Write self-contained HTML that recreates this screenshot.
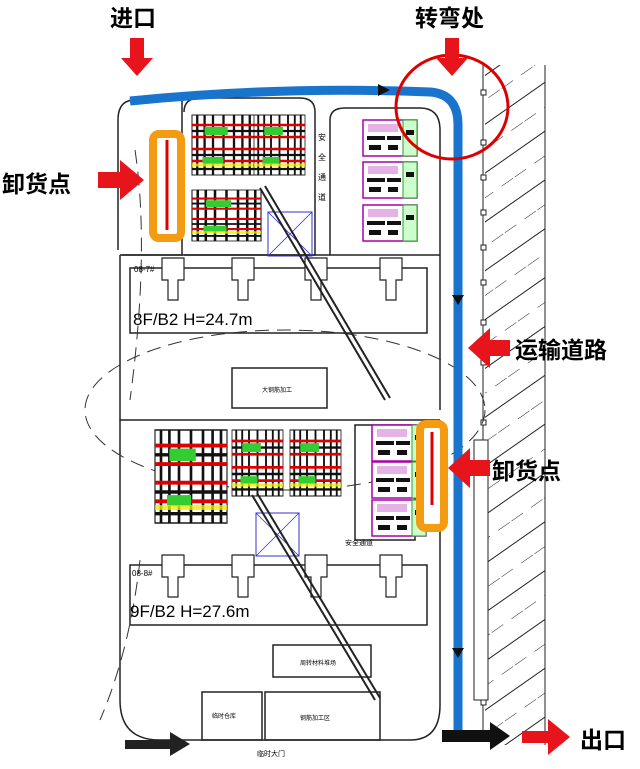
<!DOCTYPE html>
<html><head><meta charset="utf-8"><style>
body{margin:0;background:#fff;}
svg{display:block;}
text{font-family:"Liberation Sans","Noto Sans CJK SC",sans-serif;}
</style></head><body>
<svg width="640" height="769" viewBox="0 0 640 769" xmlns="http://www.w3.org/2000/svg">
<defs>
<pattern id="h" width="40" height="40" patternUnits="userSpaceOnUse" patternTransform="rotate(-35)">
<line x1="0" y1="0" x2="40" y2="0" stroke="#222" stroke-width="1" stroke-dasharray="14 10"/>
<line x1="0" y1="20" x2="40" y2="20" stroke="#222" stroke-width="1"/>
</pattern>
<g id="grid">
<rect x="0" y="0" width="60" height="60" fill="#fff" stroke="#222"/>
<path d="M5 0V60M12 0V60M20 0V60M30 0V60M40 0V60M48 0V60M55 0V60" stroke="#111" stroke-width="2.2"/>
<path d="M0 10H60M0 22H60M0 34H60M0 46H60" stroke="#d00" stroke-width="2.5"/>
<path d="M0 16H60M0 40H60M0 54H60" stroke="#111" stroke-width="2.2"/>
<rect x="12" y="12" width="22" height="8" fill="#3c3"/>
<rect x="10" y="42" width="20" height="7" fill="#3c3"/>
<path d="M0 50H60" stroke="#ee0" stroke-width="3" opacity=".8"/>
</g>
<g id="pb">
<rect x="0" y="0" width="54" height="36" fill="#fff" stroke="#a0a" stroke-width="1.5"/>
<rect x="40" y="0" width="14" height="36" fill="#cfc" stroke="#393"/>
<rect x="5" y="4" width="30" height="8" fill="#a0a" opacity=".3"/>
<rect x="4" y="16" width="18" height="4" fill="#111"/><rect x="24" y="16" width="14" height="4" fill="#111"/>
<rect x="6" y="25" width="12" height="5" fill="#111"/><rect x="25" y="25" width="10" height="5" fill="#111"/>
<rect x="43" y="10" width="8" height="5" fill="#111"/>
</g>
</defs>
<rect width="640" height="769" fill="#fff"/>
<rect x="485" y="65" width="60" height="680" fill="url(#h)"/>
<line x1="483" y1="65" x2="483" y2="740" stroke="#222"/>
<line x1="545" y1="65" x2="545" y2="745" stroke="#222"/>
<g fill="#fff" stroke="#222"><rect x="481" y="90" width="5" height="5"/><rect x="481" y="140" width="5" height="5"/><rect x="481" y="175" width="5" height="5"/><rect x="481" y="210" width="5" height="5"/><rect x="481" y="245" width="5" height="5"/><rect x="481" y="280" width="5" height="5"/><rect x="481" y="320" width="5" height="5"/><rect x="481" y="360" width="5" height="5"/><rect x="481" y="420" width="5" height="5"/><rect x="481" y="490" width="5" height="5"/><rect x="481" y="560" width="5" height="5"/><rect x="481" y="630" width="5" height="5"/><rect x="481" y="700" width="5" height="5"/></g>
<rect x="474" y="440" width="14" height="260" fill="#fff" stroke="#222"/>
<g fill="none" stroke="#222" stroke-width="1.5">
<path d="M118 250V120Q118 100 135 100"/>
<path d="M122 255H182V95"/>
<path d="M184 112Q184 98 200 98H300Q315 98 315 112V255H184"/>
<path d="M330 255V120Q330 108 345 108H420Q440 108 440 130V410"/>
<path d="M120 255H440"/>
<rect x="130" y="268" width="297" height="65"/>
<path d="M120 255V420H440"/>
<path d="M120 420V700Q120 740 160 740H410Q440 740 440 705V420"/>
<rect x="130" y="565" width="297" height="60"/>
<rect x="355" y="425" width="60" height="115"/>
<rect x="232" y="368" width="95" height="40"/>
<rect x="273" y="645" width="98" height="32"/>
<rect x="202" y="692" width="60" height="48"/>
<rect x="265" y="692" width="115" height="48"/>
</g>
<g fill="#fff" stroke="#222" stroke-width="1.2">
<path d="M162 258h22v22h-6v20h-10v-20h-6z"/><path d="M232 258h22v22h-6v20h-10v-20h-6z"/><path d="M305 258h22v22h-6v20h-10v-20h-6z"/><path d="M380 258h22v22h-6v20h-10v-20h-6z"/>
<path d="M162 555h22v22h-6v20h-10v-20h-6z"/><path d="M232 555h22v22h-6v20h-10v-20h-6z"/><path d="M305 555h22v22h-6v20h-10v-20h-6z"/><path d="M380 555h22v22h-6v20h-10v-20h-6z"/>
</g>
<g fill="none" stroke="#333" stroke-dasharray="14 8" stroke-width="1">
<ellipse cx="285" cy="410" rx="200" ry="80"/>
<path d="M135 150Q150 250 130 400"/><path d="M140 560Q130 650 100 720"/>
</g>
<text x="134" y="272" font-size="8">08-7#</text>
<text x="132" y="576" font-size="8">08-8#</text>
<text x="133" y="325" font-size="17">8F/B2 H=24.7m</text>
<text x="130" y="617" font-size="17">9F/B2 H=27.6m</text>
<text x="262" y="392" font-size="6">大钢筋加工</text>
<text x="300" y="665" font-size="6">周转材料堆场</text>
<text x="212" y="718" font-size="6">临时仓库</text>
<text x="300" y="720" font-size="6">钢筋加工区</text>
<text x="345" y="545" font-size="7">安全通道</text>
<text x="318" y="140" font-size="8">安</text><text x="318" y="160" font-size="8">全</text><text x="318" y="180" font-size="8">通</text><text x="318" y="200" font-size="8">道</text>
<text x="257" y="756" font-size="7">临时大门</text>
<use href="#grid" transform="translate(192,115) scale(1.05,1)"/>
<use href="#grid" transform="translate(254,115) scale(.85,1)"/>
<use href="#grid" transform="translate(192,190) scale(1.15,.85)"/>
<use href="#grid" transform="translate(155,430) scale(1.2,1.55)"/>
<use href="#grid" transform="translate(232,430) scale(.85,1.1)"/>
<use href="#grid" transform="translate(290,430) scale(.85,1.1)"/>
<use href="#pb" transform="translate(363,120)"/>
<use href="#pb" transform="translate(363,162)"/>
<use href="#pb" transform="translate(363,205)"/>
<use href="#pb" transform="translate(372,425)"/>
<use href="#pb" transform="translate(372,462)"/>
<use href="#pb" transform="translate(372,500)"/>
<rect x="268" y="212" width="44" height="44" fill="none" stroke="#33c"/>
<path d="M268 212L312 256M312 212L268 256" stroke="#33c" stroke-width=".8"/>
<rect x="256" y="513" width="43" height="43" fill="none" stroke="#33c"/>
<path d="M256 513L299 556M299 513L256 556" stroke="#33c" stroke-width=".8"/>
<path d="M260 188L385 400M265 186L390 398" stroke="#222" stroke-width="2"/>
<path d="M252 495L375 700M257 493L380 698" stroke="#222" stroke-width="2"/>
<rect x="153" y="134" width="28" height="104" rx="6" fill="#fff" stroke="#f39c12" stroke-width="8"/>
<path d="M167 140V230" stroke="#d00" stroke-width="3"/>
<rect x="420" y="424" width="24" height="104" rx="6" fill="#fff" stroke="#f39c12" stroke-width="8"/>
<path d="M432 432V505" stroke="#d00" stroke-width="3"/>
<path d="M130 101Q280 86 430 92Q458 94 458 125V732" fill="none" stroke="#1874cd" stroke-width="9"/>
<path d="M378 84l12 6-12 6z" fill="#111"/>
<path d="M452 295l6 10 6-10z" fill="#111"/>
<path d="M452 648l6 10 6-10z" fill="#111"/>
<ellipse cx="452" cy="107" rx="56" ry="52" fill="none" stroke="#d00" stroke-width="3"/>
<g fill="#e8141b">
<path d="M130 38h14v20h9l-16 18-16-18h9z"/>
<path d="M445 38h14v20h9l-16 18-16-18h9z"/>
<path d="M98 172h22v-12l24 20-24 20v-12h-22z"/>
<path d="M510 340h-20v-12l-22 20 22 20v-12h20z"/>
<path d="M490 460h-20v-12l-22 20 22 20v-12h20z"/>
<path d="M522 731h26v-12l22 18-22 18v-12h-26z"/>
</g>
<path d="M442 730h48v-8l20 14-20 14v-8h-48z" fill="#111"/>
<path d="M125 740h45v-8l20 12-20 12v-7h-45z" fill="#222"/>
<g font-weight="bold" font-size="23" fill="#000">
<text x="110" y="26">进口</text>
<text x="415" y="26">转弯处</text>
<text x="2" y="192">卸货点</text>
<text x="515" y="358">运输道路</text>
<text x="492" y="479">卸货点</text>
<text x="580" y="748">出口</text>
</g>
</svg>
</body></html>
